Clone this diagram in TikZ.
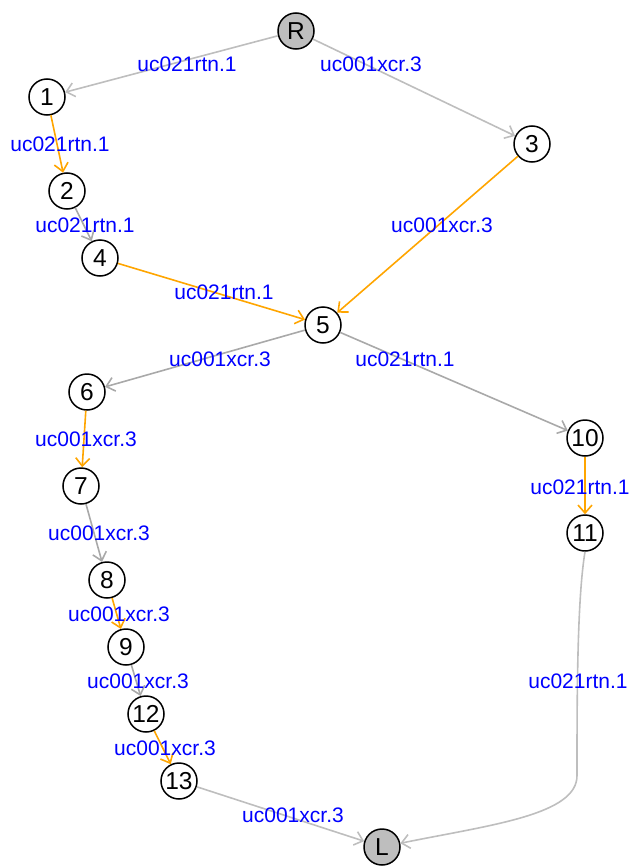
\documentclass[tikz,border=0pt]{standalone}
\usepackage{fontspec}
\setmainfont{Liberation Sans}
\usetikzlibrary{arrows.meta}
\definecolor{lgray}{HTML}{BEBEBE}
\definecolor{dgray}{HTML}{A9A9A9}
\definecolor{eorange}{HTML}{FFA500}
\definecolor{eblue}{HTML}{0000FF}
\begin{document}
\begin{tikzpicture}[x=1pt,y=-1pt,
  vtx/.style={circle,draw=black,line width=1.5pt,minimum size=36pt,inner sep=0pt,fill=white,font=\fontsize{24.5}{24.5}\selectfont},
  term/.style={vtx,fill=lgray},
  edg/.style={line width=1.6pt,-{Straight Barb[length=8pt,width=14pt,line width=1.6pt]}},
  eg/.style={edg,draw=lgray},
  ed/.style={edg,draw=dgray},
  eo/.style={edg,draw=eorange},
  lab/.style={text=eblue,font=\fontsize{21}{21}\selectfont,inner sep=0pt}]
\useasboundingbox (0,0) rectangle (631,867);
\node[term] (R) at (296,31) {R};
\node[vtx] (n1) at (47,97) {1};
\node[vtx] (n3) at (532,144) {3};
\node[vtx] (n2) at (67,191) {2};
\node[vtx] (n4) at (100,258) {4};
\node[vtx] (n5) at (323,325) {5};
\node[vtx] (n6) at (87,392) {6};
\node[vtx] (n10) at (585,438) {10};
\node[vtx] (n7) at (81,486) {7};
\node[vtx] (n11) at (585,533) {11};
\node[vtx] (n8) at (107,580) {8};
\node[vtx] (n9) at (126,647) {9};
\node[vtx] (n12) at (146,714) {12};
\node[vtx] (n13) at (179,781) {13};
\node[term] (L) at (382,847) {L};
\coordinate (c1) at (577,775);
\draw[eg] (R) -- (n1);
\draw[eg] (R) -- (n3);
\draw[eo] (n1) -- (n2);
\draw[ed] (n2) -- (n4);
\draw[eo] (n3) -- (n5);
\draw[eo] (n4) -- (n5);
\draw[ed] (n5) -- (n6);
\draw[ed] (n5) -- (n10);
\draw[eo] (n6) -- (n7);
\draw[eo] (n10) -- (n11);
\draw[ed] (n7) -- (n8);
\draw[eo] (n8) -- (n9);
\draw[ed] (n9) -- (n12);
\draw[eo] (n12) -- (n13);
\draw[eg] (n13) -- (L);
\draw[eg] (n11.south) .. controls (577,600) and (577,700) .. (c1) .. controls (578,815) and (490,825) .. (L);
\node[lab] (l1) at (187,64) {uc021rtn.1};
\node[lab] (l2) at (371,64) {uc001xcr.3};
\node[lab] (l3) at (60,144) {uc021rtn.1};
\node[lab] (l4) at (85,225) {uc021rtn.1};
\node[lab] (l5) at (442,225) {uc001xcr.3};
\node[lab] (l6) at (224,292) {uc021rtn.1};
\node[lab] (l7) at (220,359) {uc001xcr.3};
\node[lab] (l8) at (405,359) {uc021rtn.1};
\node[lab] (l9) at (86,439) {uc001xcr.3};
\node[lab] (l10) at (580,487) {uc021rtn.1};
\node[lab] (l11) at (99,533) {uc001xcr.3};
\node[lab] (l12) at (119,614) {uc001xcr.3};
\node[lab] (l13) at (138,681) {uc001xcr.3};
\node[lab] (l14) at (165,748) {uc001xcr.3};
\node[lab] (l15) at (293,815) {uc001xcr.3};
\node[lab] (l16) at (578,681) {uc021rtn.1};
\end{tikzpicture}
\end{document}
